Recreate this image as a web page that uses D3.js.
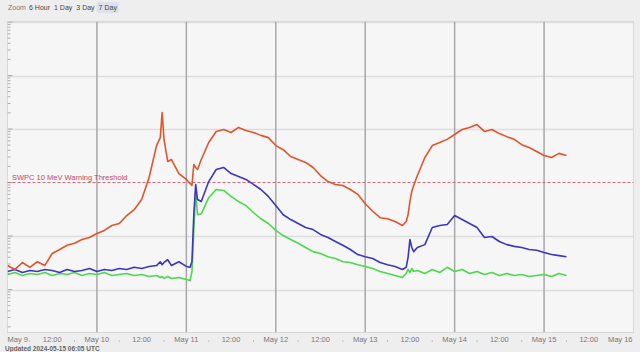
<!DOCTYPE html>
<html>
<head>
<meta charset="utf-8">
<script src="https://cdn.jsdelivr.net/npm/d3@7"></script>
<style>
body { margin: 0; background: #eeeeee; font-family: "Liberation Sans", Arial, sans-serif; }
svg { display: block; }
</style>
</head>
<body>
<div id="chart"></div>
<script>
// hours since 2024-05-09 00:00 UTC
var hours = [0, 2, 4, 6, 8, 10, 12, 14, 16, 18, 20, 22, 24, 26, 28, 30, 32, 34, 36, 38, 40,
    41, 41.5, 42, 43, 44, 46, 48, 49, 49.5, 50, 50.5, 51, 52,
    54, 56, 58, 60, 62, 64, 66, 68, 70, 72, 74, 76, 78, 80, 82, 84, 86, 88, 90, 92, 94, 96, 98, 100, 102, 104, 106,
    107, 107.5, 108, 108.5, 109,
    110, 112, 114, 116, 118, 120, 122, 124, 126, 128, 130, 132, 134, 136, 138, 140, 142, 144, 146, 148, 150];

// proton flux, pfu
var flux10 = [0.28, 0.237, 0.32, 0.26, 0.33, 0.28, 0.47, 0.56, 0.67, 0.73, 0.86, 0.94, 1.11, 1.27, 1.57, 1.71, 2.41, 3.1, 4.8, 12.4, 49,
    69, 203, 64, 24.7, 26.9, 14.7, 11.4, 9.6, 8.8, 21.7, 19.1, 17.5, 26.9,
    56, 90, 98, 86, 107, 94, 86, 76, 69, 49, 41, 30.6, 26.9, 23.7, 19.1, 13.5, 10.4, 9.2, 8.8, 7.4, 6.0, 4.0, 2.9, 2.2, 2.1, 1.87, 1.57,
    1.87, 2.5, 4.4, 6.8, 8.8,
    13.5, 29.3, 49, 56, 64, 79, 98, 107, 121, 90, 98, 82, 72, 64, 51, 45, 38, 32, 29.3, 35, 32];

var flux50 = [0.217, 0.237, 0.208, 0.226, 0.217, 0.237, 0.226, 0.208, 0.237, 0.217, 0.226, 0.247, 0.217, 0.237, 0.226, 0.247, 0.237, 0.26, 0.247, 0.27, 0.28,
    0.33, 0.29, 0.32, 0.36, 0.28, 0.33, 0.27, 0.26, 0.33, 2.5, 9.2, 4.8, 4.4,
    10.4, 17.5, 19.1, 14.7, 12.9, 11.4, 9.2, 7.4, 5.5, 3.7, 2.5, 2.03, 1.71, 1.44, 1.32, 1.07, 0.94, 0.79, 0.67, 0.56, 0.45, 0.41, 0.38, 0.32, 0.29, 0.27, 0.237,
    0.26, 0.40, 0.86, 0.61, 0.51,
    0.61, 0.69, 1.44, 1.57, 1.64, 2.41, 2.03, 1.71, 1.44, 0.94, 0.98, 0.79, 0.69, 0.64, 0.61, 0.56, 0.54, 0.49, 0.45, 0.43, 0.41];

var flux100 = [0.191, 0.208, 0.183, 0.199, 0.191, 0.208, 0.183, 0.199, 0.191, 0.208, 0.183, 0.199, 0.191, 0.208, 0.183, 0.191, 0.199, 0.183, 0.191, 0.175, 0.183,
    0.168, 0.175, 0.161, 0.175, 0.161, 0.168, 0.154, 0.147, 0.217, 1.32, 6.8, 2.5, 2.6,
    5.2, 7.4, 7.1, 5.5, 4.4, 3.7, 2.75, 2.1, 1.71, 1.27, 1.02, 0.86, 0.73, 0.61, 0.51, 0.47, 0.41, 0.38, 0.33, 0.32, 0.29, 0.27, 0.247, 0.217, 0.199, 0.183, 0.168,
    0.199, 0.237, 0.208, 0.247, 0.217,
    0.226, 0.199, 0.237, 0.208, 0.26, 0.217, 0.237, 0.199, 0.217, 0.191, 0.208, 0.183, 0.199, 0.183, 0.191, 0.175, 0.183, 0.191, 0.175, 0.199, 0.183];

var zoom_buttons = ["6 Hour", "1 Day", "3 Day", "7 Day"];
var x_labels = ["May 9", "12:00", "May 10", "12:00", "May 11", "12:00", "May 12", "12:00",
    "May 13", "12:00", "May 14", "12:00", "May 15", "12:00", "May 16"];
var y_decades = [0.01, 0.1, 1, 10, 100, 1000, 10000];
var threshold = 10;
var threshold_label = "SWPC 10 MeV Warning Threshold";
var updated_label = "Updated 2024-05-15 06:05 UTC";

var swpc = {};

swpc.draw = function(selector) {
    var width = 640, height = 352;
    var left = 7.5, right = 633.5, top = 21.5, bottom = 332.5;
    var t0 = Date.UTC(2024, 4, 9);

    var svg = d3.select(selector).append("svg")
        .attr("width", width)
        .attr("height", height);

    var x = d3.scaleUtc()
        .domain([new Date(t0), new Date(Date.UTC(2024, 4, 16))])
        .range([left, right]);
    // decades are ~53.5px apart, 1e4 sits on the top edge
    var y = d3.scaleLog()
        .domain([0.01, 10000])
        .range([22 + 6 * 53.5, 22]);

    var when = function(h) { return new Date(t0 + h * 3600e3); };

    // zoom toolbar
    var bar = svg.append("g").attr("font-size", 7).attr("fill", "#777");
    bar.append("text").attr("x", 8).attr("y", 10).text("Zoom");
    var bx = 29;
    zoom_buttons.forEach(function(label, i) {
        var t = bar.append("text").attr("x", bx).attr("y", 10).attr("fill", "#444").text(label);
        var w = t.node().getComputedTextLength();
        if (i === zoom_buttons.length - 1) {
            bar.insert("rect", "text")
                .attr("x", bx - 2).attr("y", 2).attr("width", w + 4).attr("height", 11)
                .attr("rx", 2).attr("fill", "#dde2ea");
        }
        bx += w + 4;
    });

    // plot area
    svg.append("rect")
        .attr("x", left).attr("y", top)
        .attr("width", right - left).attr("height", bottom - top)
        .attr("fill", "#f6f6f6")
        .attr("stroke", "#d8d8d8");

    svg.append("clipPath").attr("id", "plot-clip")
      .append("rect")
        .attr("x", left).attr("y", top)
        .attr("width", right - left).attr("height", bottom - top);

    var grid = svg.append("g").attr("clip-path", "url(#plot-clip)");

    // horizontal decade lines (threshold gets its own dashed line)
    grid.selectAll("line.h")
        .data(y_decades.filter(function(d) { return d !== threshold; }))
      .enter().append("line")
        .attr("class", "h")
        .attr("x1", left).attr("x2", right)
        .attr("y1", function(d) { return Math.round(y(d)) + 0.5; })
        .attr("y2", function(d) { return Math.round(y(d)) + 0.5; })
        .attr("stroke", "#dddddd")
        .attr("stroke-width", 1.5);

    // vertical day lines
    var days = x.ticks(d3.utcDay.every(1)).slice(1, -1);
    grid.selectAll("line.v")
        .data(days)
      .enter().append("line")
        .attr("class", "v")
        .attr("x1", function(d) { return x(d); })
        .attr("x2", function(d) { return x(d); })
        .attr("y1", top).attr("y2", bottom)
        .attr("stroke", "#a8a8a8")
        .attr("stroke-width", 1.5);

    // left axis: major and minor log ticks
    var minor = [];
    y_decades.forEach(function(d) {
        for (var k = 1; k < 10; k++) minor.push(d * k);
    });
    grid.selectAll("line.tick")
        .data(minor)
      .enter().append("line")
        .attr("x1", left)
        .attr("x2", function(d, i) { return left + (i % 9 === 0 ? 5 : 3); })
        .attr("y1", function(d) { return y(d); })
        .attr("y2", function(d) { return y(d); })
        .attr("stroke", "#9a9a9a")
        .attr("stroke-width", 0.8);

    // warning threshold
    grid.append("line")
        .attr("x1", left).attr("x2", right)
        .attr("y1", y(threshold)).attr("y2", y(threshold))
        .attr("stroke", "#d06a78")
        .attr("stroke-width", 1)
        .attr("stroke-dasharray", "3,2");
    svg.append("text")
        .attr("x", 12).attr("y", y(threshold) - 3)
        .attr("font-size", 7.5)
        .attr("fill", "#c4485c")
        .text(threshold_label);

    // flux series
    var series = [
        { values: flux10, color: "#e4532b" },
        { values: flux50, color: "#3b35c4" },
        { values: flux100, color: "#4cd84c" },
    ];
    var line = d3.line()
        .x(function(d) { return x(when(d[0])); })
        .y(function(d) { return y(d[1]); });

    grid.selectAll("path.series")
        .data(series.slice().reverse())
      .enter().append("path")
        .attr("class", "series")
        .attr("fill", "none")
        .attr("stroke", function(d) { return d.color; })
        .attr("stroke-width", 1.6)
        .attr("stroke-linejoin", "round")
        .attr("d", function(d) { return line(d3.zip(hours, d.values)); });

    // x labels every 12 hours, dots at 6 and 18
    var ticks = x_labels.map(function(label, i) { return { label: label, h: i * 12 }; });
    svg.selectAll("text.xl")
        .data(ticks)
      .enter().append("text")
        .attr("class", "xl")
        .attr("x", function(d, i) {
            if (i === 0) return left;
            if (i === ticks.length - 1) return right - 1;
            return x(when(d.h));
        })
        .attr("y", 342)
        .attr("font-size", 7.5)
        .attr("fill", "#777")
        .attr("text-anchor", function(d, i) {
            if (i === 0) return "start";
            if (i === ticks.length - 1) return "end";
            return "middle";
        })
        .text(function(d) { return d.label; });

    svg.selectAll("circle.dot")
        .data(d3.range(6, 168, 12))
      .enter().append("circle")
        .attr("cx", function(h) { return x(when(h)); })
        .attr("cy", 341)
        .attr("r", 0.6)
        .attr("fill", "#888");

    svg.append("text")
        .attr("x", 5).attr("y", 350.5)
        .attr("font-size", 6.5)
        .attr("font-weight", "bold")
        .attr("fill", "#666")
        .text(updated_label);
};

swpc.draw("#chart");
</script>
</body>
</html>
